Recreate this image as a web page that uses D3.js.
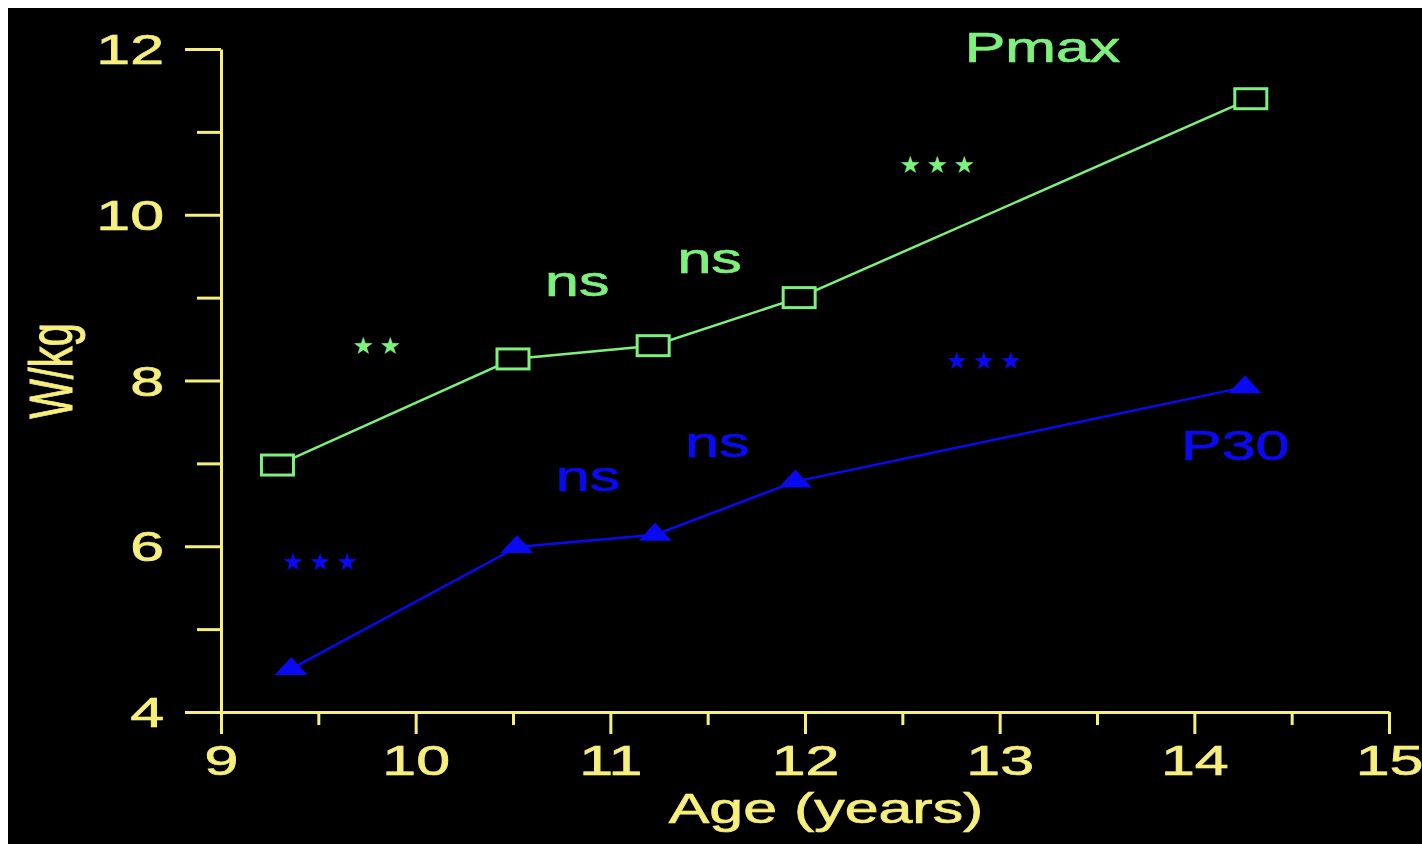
<!DOCTYPE html>
<html>
<head>
<meta charset="utf-8">
<script src="https://cdn.jsdelivr.net/npm/d3@7"></script>
<style>
  html, body { margin: 0; padding: 0; background: #ffffff; }
  svg { display: block; }
</style>
</head>
<body>
<svg id="chart" width="1422" height="844"></svg>
<script>
// ---- data ----
const agesPmax = [9.29, 10.50, 11.22, 11.97, 14.29];
const pmaxValues = [6.98, 8.26, 8.42, 9.00, 11.40];
const agesP30 = [9.36, 10.52, 11.23, 11.95, 14.26];
const p30Values = [4.52, 5.99, 6.14, 6.78, 7.92];

const yMajorTicks = [4, 6, 8, 10, 12];
const yMinorTicks = [5, 7, 9, 11];
const xMajorTicks = [9, 10, 11, 12, 13, 14, 15];
const xMinorTicks = [9.5, 10.5, 11.5, 12.5, 13.5, 14.5];

const seriesNames = ["Pmax", "P30"];
const seriesLabelAt = [[13.22, 11.84], [14.21, 7.04]];

const sigPmax = ["**", "ns", "ns", "***"];
const sigPmaxAt = [[9.80, 8.42], [10.83, 9.02], [11.51, 9.30], [12.68, 10.61]];
const sigP30 = ["***", "ns", "ns", "***"];
const sigP30At = [[9.51, 5.82], [10.885, 6.67], [11.55, 7.08], [12.92, 8.24]];

const xTitle = "Age (years)";
const yTitle = "W/kg";

// ---- styles ----
const YELLOW = "#f7ef7c";
const GREEN = "#7ef07e";
const BLUE = "#0a0af2";
const FONT = "'Liberation Sans', Arial, Helvetica, sans-serif";
const SX = 1.45; // horizontal stretch of the lettering
const FS = 42;
const TSW = 0.7; // slight outline to thicken lettering

const svg = d3.select("#chart");
svg.append("rect").attr("x", 8).attr("y", 8).attr("width", 1414).attr("height", 836).attr("fill", "#000");

const x = d3.scaleLinear().domain([9, 15]).range([221, 1389]);
const y = d3.scaleLinear().domain([4, 12]).range([712, 49]);

// ---- axes ----
const yAxis = svg.append("g").attr("transform", `translate(${x(9)},0)`)
  .call(d3.axisLeft(y).tickValues(yMajorTicks).tickSize(36).tickSizeOuter(0).tickFormat(d3.format("d")));
const yMinor = svg.append("g").attr("transform", `translate(${x(9)},0)`)
  .call(d3.axisLeft(y).tickValues(yMinorTicks).tickSize(24).tickFormat(""));
yMinor.select(".domain").remove();

const xAxis = svg.append("g").attr("transform", `translate(0,${y(4)})`)
  .call(d3.axisBottom(x).tickValues(xMajorTicks).tickSize(22).tickSizeOuter(0).tickFormat(d3.format("d")));
const xMinor = svg.append("g").attr("transform", `translate(0,${y(4)})`)
  .call(d3.axisBottom(x).tickValues(xMinorTicks).tickSize(13).tickFormat(""));
xMinor.select(".domain").remove();

[yAxis, yMinor, xAxis, xMinor].forEach(g => {
  g.selectAll("path, line").attr("stroke", YELLOW).attr("stroke-width", 3);
  g.selectAll("text").attr("fill", YELLOW).attr("font-family", FONT).attr("font-size", FS)
    .attr("stroke", YELLOW).attr("stroke-width", TSW);
});
yAxis.selectAll("text").attr("x", 0).attr("dy", "0.35em").attr("text-anchor", "end")
  .attr("transform", `translate(-57,0) scale(${SX},1)`);
xAxis.selectAll("text").attr("y", 0).attr("dy", 0).attr("text-anchor", "middle")
  .attr("transform", `translate(0,63) scale(${SX},1)`);

function stretched(txt, px, py, color, anchor) {
  return svg.append("text")
    .attr("transform", `translate(${px},${py}) scale(${SX},1)`)
    .attr("text-anchor", anchor || "middle")
    .attr("font-family", FONT).attr("font-size", FS)
    .attr("fill", color).attr("stroke", color).attr("stroke-width", TSW).text(txt);
}

// axis titles
stretched(xTitle, 826, 823, YELLOW);
svg.append("text")
  .attr("transform", `translate(72,371) rotate(-90) scale(1,${SX})`)
  .attr("text-anchor", "middle").attr("font-family", FONT).attr("font-size", FS)
  .attr("fill", YELLOW).attr("stroke", YELLOW).attr("stroke-width", TSW).text(yTitle);

// ---- series ----
const pmaxPts = agesPmax.map((a, i) => [a, pmaxValues[i]]);
const p30Pts = agesP30.map((a, i) => [a, p30Values[i]]);
const line = d3.line().x(d => x(d[0])).y(d => y(d[1]));

svg.append("path").datum(pmaxPts).attr("d", line).attr("fill", "none")
  .attr("stroke", GREEN).attr("stroke-width", 2.5);
svg.append("path").datum(p30Pts).attr("d", line).attr("fill", "none")
  .attr("stroke", BLUE).attr("stroke-width", 2.5);

const sqW = 32, sqH = 20;
svg.selectAll(".sq").data(pmaxPts).enter().append("rect")
  .attr("x", d => x(d[0]) - sqW / 2).attr("y", d => y(d[1]) - sqH / 2)
  .attr("width", sqW).attr("height", sqH)
  .attr("fill", "#000").attr("stroke", GREEN).attr("stroke-width", 3);

const triW = 33, triH = 18;
svg.selectAll(".tri").data(p30Pts).enter().append("path")
  .attr("transform", d => `translate(${x(d[0])},${y(d[1])})`)
  .attr("d", `M0,${-triH * 2 / 3}L${triW / 2},${triH / 3}L${-triW / 2},${triH / 3}Z`)
  .attr("fill", BLUE);

// ---- series names ----
stretched(seriesNames[0], x(seriesLabelAt[0][0]), y(seriesLabelAt[0][1]), GREEN);
stretched(seriesNames[1], x(seriesLabelAt[1][0]), y(seriesLabelAt[1][1]), BLUE);

// ---- significance annotations ----
function sig(labels, at, color) {
  labels.forEach((t, i) => {
    const px = x(at[i][0]), py = y(at[i][1]);
    if (t === "ns") {
      stretched(t, px, py, color);
    } else {
      const n = t.length, spacing = 27;
      d3.range(n).forEach(k => {
        svg.append("text")
          .attr("x", px + (k - (n - 1) / 2) * spacing).attr("y", py)
          .attr("dy", "0.36em")
          .attr("text-anchor", "middle")
          .attr("font-family", "'DejaVu Sans', sans-serif").attr("font-size", 24)
          .attr("fill", color).text("\u2605");
      });
    }
  });
}
sig(sigPmax, sigPmaxAt, GREEN);
sig(sigP30, sigP30At, BLUE);
</script>
</body>
</html>
